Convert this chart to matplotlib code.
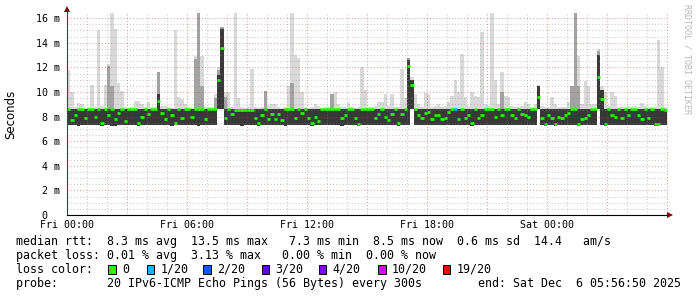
import matplotlib
matplotlib.use('Agg')
import matplotlib.pyplot as plt
from matplotlib.patches import Rectangle
import numpy as np

# ---- data: one value per 10 minutes, Fri 00:00 .. Sat 06:00 (ms) ----
# median rtt
median = [
    8.6, 7.7, 8.1, 8.6, 8.6, 7.9,
    8.6, 8.6, 8.0, 8.6, 7.5, 8.6,
    8.1, 8.6, 7.8, 8.3, 8.6, 7.6,
    8.6, 8.6, 8.6, 7.5, 8.0, 8.6,
    8.2, 8.6, 8.6, 9.3, 8.3, 7.8,
    8.6, 8.1, 7.5, 8.6, 7.9, 8.6,
    8.6, 8.0, 8.6, 8.6, 8.6, 7.8,
    8.6, 8.6, 8.6, 11.0, 13.6, 7.9,
    8.6, 8.2, 8.5, 8.5, 8.5, 8.5,
    8.5, 8.5, 7.9, 7.5, 8.1, 8.6,
    7.8, 8.2, 7.8, 8.2, 7.7, 8.6,
    8.6, 8.6, 7.9, 8.6, 8.3, 8.6,
    7.9, 7.5, 8.0, 7.6, 8.6, 8.6,
    8.6, 8.6, 8.6, 8.6, 7.9, 8.1,
    8.6, 8.6, 7.9, 7.4, 8.6, 8.6,
    8.6, 8.6, 7.9, 8.2, 8.6, 8.0,
    7.7, 8.2, 8.6, 7.5, 8.2, 8.6,
    12.1, 10.6, 8.6, 8.1, 7.9, 8.3,
    8.4, 7.8, 8.1, 8.1, 7.8, 7.9,
    8.4, 8.6, 8.6, 7.8, 8.6, 7.9,
    8.1, 7.5, 8.6, 7.9, 8.1, 8.6,
    8.6, 8.6, 8.0, 8.6, 8.1, 8.6,
    8.6, 8.1, 7.9, 8.6, 8.2, 8.1,
    8.0, 8.6, 8.6, 9.6, 7.9, 7.4,
    8.1, 7.9, 7.4, 8.0, 7.9, 8.1,
    8.3, 8.6, 8.6, 7.4, 7.8, 7.9,
    8.1, 8.6, 8.6, 11.2, 9.4, 7.4,
    8.6, 8.1, 8.0, 8.6, 7.9, 8.6,
    8.1, 8.6, 8.6, 8.1, 7.8, 8.6,
    7.9, 8.6, 7.4, 7.4, 8.6, 8.5,
]

# slowest pings (light smoke top)
hi = [
    11.8, 10.0, 8.8, 9.1, 9.0, 8.7,
    8.8, 10.6, 8.8, 15.0, 8.9, 10.6,
    12.3, 16.4, 15.1, 10.7, 10.1, 8.8,
    8.7, 8.8, 9.3, 9.3, 9.0, 8.8,
    9.2, 8.8, 8.8, 11.6, 8.9, 8.9,
    8.8, 8.7, 15.0, 9.6, 9.4, 9.0,
    8.8, 8.7, 12.9, 16.4, 12.9, 8.8,
    8.8, 8.8, 9.8, 12.0, 15.3, 10.0,
    10.0, 8.8, 16.4, 9.5, 8.8, 8.7,
    8.8, 11.9, 8.8, 8.7, 8.8, 10.1,
    8.9, 9.0, 9.0, 8.8, 8.7, 8.8,
    10.5, 16.4, 13.0, 12.8, 10.0, 8.8,
    8.7, 8.8, 9.0, 8.9, 8.7, 8.8,
    8.8, 9.8, 10.0, 9.0, 8.8, 8.8,
    9.1, 8.8, 8.7, 8.8, 12.0, 10.2,
    8.8, 8.8, 8.9, 9.2, 9.2, 9.8,
    8.9, 9.8, 8.8, 8.8, 11.9, 9.5,
    12.8, 11.2, 9.8, 9.0, 8.8, 9.9,
    9.8, 8.8, 8.9, 9.0, 8.8, 8.9,
    9.2, 9.7, 11.0, 10.0, 13.1, 9.6,
    8.9, 10.0, 9.7, 9.6, 14.9, 9.0,
    8.9, 16.4, 11.0, 9.0, 11.6, 9.7,
    9.6, 8.9, 8.8, 8.8, 8.9, 9.2,
    9.0, 8.8, 9.0, 10.6, 8.9, 8.8,
    8.8, 9.6, 9.0, 8.8, 8.8, 8.8,
    9.2, 10.5, 16.4, 12.9, 9.0, 10.9,
    10.5, 9.0, 9.0, 13.5, 10.5, 10.0,
    8.9, 10.0, 9.7, 8.8, 8.8, 8.8,
    8.9, 8.8, 8.9, 8.8, 9.1, 8.9,
    8.8, 8.8, 8.8, 14.2, 12.0, 8.8,
]

# middle smoke top (medium gray)
mid = [
    8.65, 8.65, 8.65, 8.65, 8.65, 8.65,
    8.65, 8.65, 8.65, 8.65, 8.65, 8.65,
    12.1, 10.5, 8.65, 8.65, 8.65, 8.65,
    8.65, 8.65, 8.65, 8.65, 8.65, 8.65,
    8.65, 8.65, 8.65, 11.6, 8.65, 8.65,
    8.65, 8.65, 8.65, 8.65, 8.65, 8.65,
    8.65, 8.65, 12.7, 16.4, 10.5, 8.65,
    8.65, 8.65, 9.5, 11.8, 15.3, 9.6,
    8.65, 8.65, 8.65, 8.65, 8.65, 8.65,
    8.65, 8.65, 8.65, 8.65, 8.65, 10.1,
    8.65, 8.65, 8.65, 8.65, 8.65, 8.65,
    8.65, 10.7, 8.65, 8.65, 8.65, 8.65,
    8.65, 8.65, 8.65, 8.65, 8.65, 8.65,
    8.65, 9.8, 8.65, 8.65, 8.65, 8.65,
    8.65, 8.65, 8.65, 8.65, 8.65, 8.65,
    8.65, 8.65, 8.65, 8.65, 8.65, 8.65,
    8.65, 8.65, 8.65, 8.65, 8.65, 8.65,
    12.8, 11.0, 8.65, 8.65, 8.65, 8.65,
    8.65, 8.65, 8.65, 8.65, 8.65, 8.65,
    8.65, 8.65, 8.65, 8.65, 8.65, 8.65,
    8.65, 8.65, 8.65, 8.65, 8.65, 8.65,
    8.65, 8.65, 8.65, 8.65, 10.0, 8.65,
    8.65, 8.65, 8.65, 8.65, 8.65, 8.65,
    8.65, 8.65, 8.65, 10.5, 8.65, 8.65,
    8.65, 8.65, 8.65, 8.65, 8.65, 8.65,
    8.65, 10.5, 16.4, 10.5, 8.65, 8.65,
    8.65, 8.65, 8.65, 13.3, 10.2, 8.65,
    8.65, 8.65, 8.65, 8.65, 8.65, 8.65,
    8.65, 8.65, 8.65, 8.65, 8.65, 8.65,
    8.65, 8.65, 8.65, 8.65, 8.65, 8.65,
]

# dense smoke: top and bottom
top = [
    8.65, 8.65, 8.65, 8.65, 8.65, 8.65,
    8.65, 8.65, 8.65, 8.65, 8.65, 8.65,
    8.65, 8.65, 8.65, 8.65, 8.65, 8.65,
    8.65, 8.65, 8.65, 8.65, 8.65, 8.65,
    8.65, 8.65, 8.65, 9.8, 8.65, 8.65,
    8.65, 8.65, 8.65, 8.65, 8.65, 8.65,
    8.65, 8.65, 8.65, 8.65, 8.65, 8.65,
    8.65, 8.65, 8.65, 11.4, 15.1, 8.65,
    8.65, 8.65, 8.65, 8.65, 8.65, 8.65,
    8.65, 8.65, 8.65, 8.65, 8.65, 8.65,
    8.65, 8.65, 8.65, 8.65, 8.65, 8.65,
    8.65, 8.65, 8.65, 8.65, 8.65, 8.65,
    8.65, 8.65, 8.65, 8.65, 8.65, 8.65,
    8.65, 8.65, 8.65, 8.65, 8.65, 8.65,
    8.65, 8.65, 8.65, 8.65, 8.65, 8.65,
    8.65, 8.65, 8.65, 8.65, 8.65, 8.65,
    8.65, 8.65, 8.65, 8.65, 8.65, 8.65,
    12.6, 11.0, 8.65, 8.65, 8.65, 8.65,
    8.65, 8.65, 8.65, 8.65, 8.65, 8.65,
    8.65, 8.65, 8.65, 8.65, 8.65, 8.65,
    8.65, 8.65, 8.65, 8.65, 8.65, 8.65,
    8.65, 8.65, 8.65, 8.65, 8.65, 8.65,
    8.65, 8.65, 8.65, 8.65, 8.65, 8.65,
    8.65, 8.65, 8.65, 10.5, 8.65, 8.65,
    8.65, 8.65, 8.65, 8.65, 8.65, 8.65,
    8.65, 8.65, 8.65, 8.65, 8.65, 8.65,
    8.65, 8.65, 8.65, 13.0, 10.2, 8.65,
    8.65, 8.65, 8.65, 8.65, 8.65, 8.65,
    8.65, 8.65, 8.65, 8.65, 8.65, 8.65,
    8.65, 8.65, 8.65, 8.65, 8.65, 8.65,
]

lo = [
    7.35, 7.3, 7.35, 7.25, 7.3, 7.35,
    7.3, 7.35, 7.3, 7.3, 7.25, 7.35,
    7.3, 7.25, 7.2, 7.3, 7.35, 7.3,
    7.35, 7.3, 7.3, 7.25, 7.3, 7.35,
    7.3, 7.35, 7.3, 7.3, 7.35, 7.3,
    7.3, 7.25, 7.3, 7.35, 7.3, 7.3,
    7.35, 7.3, 7.3, 7.25, 7.3, 7.35,
    7.3, 7.3, 7.35, 8.6, 8.6, 7.3,
    7.3, 7.35, 7.3, 7.3, 7.25, 7.3,
    7.3, 7.35, 7.3, 7.25, 7.3, 7.3,
    7.35, 7.3, 7.3, 7.35, 7.3, 7.25,
    7.3, 7.3, 7.35, 7.3, 7.3, 7.35,
    7.3, 7.25, 7.3, 7.3, 7.35, 7.3,
    7.3, 7.35, 7.3, 7.3, 7.25, 7.3,
    7.35, 7.3, 7.3, 7.2, 7.3, 7.35,
    7.3, 7.3, 7.35, 7.3, 7.3, 7.3,
    7.35, 7.3, 7.3, 7.25, 7.3, 7.3,
    7.3, 8.6, 7.3, 7.35, 7.3, 7.3,
    7.3, 7.35, 7.3, 7.3, 7.35, 7.3,
    7.3, 7.3, 7.35, 7.3, 7.3, 7.35,
    7.3, 7.25, 7.3, 7.35, 7.3, 7.3,
    7.35, 7.3, 7.3, 7.3, 7.35, 7.3,
    7.3, 7.35, 7.3, 7.3, 7.3, 7.35,
    7.3, 7.3, 7.35, 8.6, 7.3, 7.25,
    7.3, 7.35, 7.2, 7.3, 7.3, 7.35,
    7.3, 7.3, 7.35, 7.25, 7.3, 7.3,
    7.35, 7.3, 7.3, 8.6, 7.3, 7.25,
    7.3, 7.35, 7.3, 7.3, 7.3, 7.35,
    7.3, 7.3, 7.35, 7.3, 7.3, 7.3,
    7.3, 7.35, 7.25, 7.2, 7.3, 7.3,
]

# steps with packet loss (index -> lost pings of 20)
loss_at = {116: 1}

xtick_pos = [0, 6, 12, 18, 24]
xtick_lab = ['Fri 00:00', 'Fri 06:00', 'Fri 12:00', 'Fri 18:00', 'Sat 00:00']
ytick_pos = [0, 2, 4, 6, 8, 10, 12, 14, 16]
ytick_lab = ['0  ', '2 m', '4 m', '6 m', '8 m', '10 m', '12 m', '14 m', '16 m']

loss_steps = ['0', '1/20', '2/20', '3/20', '4/20', '10/20', '19/20']
loss_cols = ['#26ff00', '#00b8ff', '#0059ff', '#5e00ff', '#7e00ff', '#dd00ff', '#ff0000']
loss_lookup = {0: '#26ff00', 1: '#00b8ff', 2: '#0059ff', 3: '#5e00ff',
               4: '#7e00ff', 10: '#dd00ff', 19: '#ff0000'}

W, H = 697, 297
mono = 'DejaVu Sans Mono'


def fx(x):
    return x / W


def fy(y):
    return 1 - y / H


fig = plt.figure(figsize=(W / 100, H / 100), dpi=100, facecolor='white')
ax = fig.add_axes([fx(67), fy(215), 601 / W, 203 / H])
ax.set_xlim(0, 30.05)
ax.set_ylim(0, 16.5)

n = len(median)
t = np.arange(n + 1) / 6.0


def ext(a):
    a = np.asarray(a, dtype=float)
    return np.append(a, a[-1])


ax.fill_between(t, ext(top), ext(hi), step='post', color='#d9d9d9', lw=0, zorder=1)
ax.fill_between(t, ext(top), ext(mid), step='post', color='#a3a3a3', lw=0, zorder=2)
ax.fill_between(t, ext(lo), ext(top), step='post', color='#383838', lw=0, zorder=3)

cols = [loss_lookup[loss_at.get(i, 0)] for i in range(n)]
lc = ax.hlines(median, t[:-1], t[1:], colors=cols, lw=1.9, zorder=6)
lc.set_capstyle('butt')

# grid drawn over the data, like rrdtool
dot = (0, (1, 2))
for h in range(1, 31):
    if h % 3 == 0:
        ax.axvline(h, color='#c83030', alpha=0.45, lw=0.75, ls=dot, zorder=5)
    else:
        ax.axvline(h, color='#8c8c8c', alpha=0.45, lw=0.75, ls=dot, zorder=5)
for v in np.arange(0.5, 16.1, 0.5):
    if v % 2 == 0:
        ax.axhline(v, color='#c83030', alpha=0.45, lw=0.75, ls=dot, zorder=5)
    else:
        ax.axhline(v, color='#8c8c8c', alpha=0.45, lw=0.75, ls=dot, zorder=5)

for s in ['top', 'right']:
    ax.spines[s].set_visible(False)
ax.spines['left'].set_color('#2c4d43')
ax.spines['bottom'].set_color('#000000')
ax.spines['left'].set_zorder(7)
ax.spines['bottom'].set_zorder(7)
ax.plot([0], [16.5 + 0.22], marker='^', ms=4.5, color='#7f0000', mew=0, clip_on=False, zorder=8)
ax.plot([30.05 + 0.12], [0], marker='>', ms=4.5, color='#7f0000', mew=0, clip_on=False, zorder=8)

ax.set_xticks(xtick_pos)
ax.set_xticklabels(xtick_lab, family=mono, fontsize=7.2)
ax.set_yticks(ytick_pos)
ax.set_yticklabels(ytick_lab, family=mono, fontsize=7.2)
ax.tick_params(axis='both', length=0)
ax.tick_params(axis='y', pad=5)
ax.tick_params(axis='x', pad=3.5)

fig.text(fx(11), fy(114), 'Seconds', rotation=90, ha='center', va='center',
         fontsize=8.5, family='DejaVu Sans')
fig.text(fx(687), fy(4), 'RRDTOOL / TOBI OETIKER', rotation=270, ha='center', va='top',
         fontsize=6, family=mono, color='#b8b8b8')

line1 = 'median rtt:  8.3 ms avg  13.5 ms max   7.3 ms min  8.5 ms now  0.6 ms sd  14.4   am/s'
line2 = 'packet loss: 0.01 % avg  3.13 % max   0.00 % min  0.00 % now'
line4 = 'probe:       20 IPv6-ICMP Echo Pings (56 Bytes) every 300s        end: Sat Dec  6 05:56:50 2025'
fs = 8.4
fig.text(fx(16), fy(241), line1, family=mono, fontsize=fs, va='center')
fig.text(fx(16), fy(255.5), line2, family=mono, fontsize=fs, va='center')
fig.text(fx(16), fy(269.5), 'loss color:', family=mono, fontsize=fs, va='center')
fig.text(fx(16), fy(283.5), line4, family=mono, fontsize=fs, va='center')

box_x = [108.3, 146.7, 203.3, 261.7, 319, 378.3, 442.7]
for bx, lab, c in zip(box_x, loss_steps, loss_cols):
    fig.patches.append(Rectangle((fx(bx), fy(273.5)), 7.4 / W, 9 / H, transform=fig.transFigure,
                                 facecolor=c, edgecolor='black', lw=0.7))
    fig.text(fx(bx + 13.5), fy(269.5), lab, family=mono, fontsize=fs, va='center')

fig.savefig('out.png', dpi=100, facecolor='white')
